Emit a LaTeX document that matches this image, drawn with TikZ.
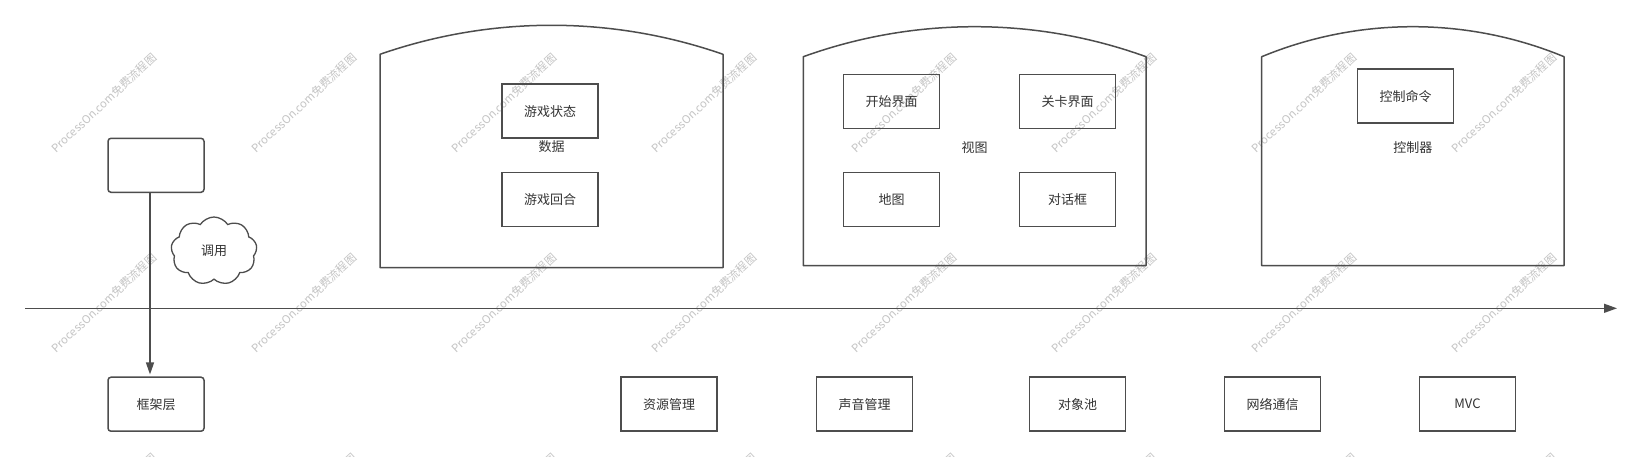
\documentclass[tikz,border=0pt]{standalone}
\usepackage{fontspec}
\setmainfont{Noto Sans CJK SC}
\usetikzlibrary{shapes.symbols,arrows.meta}
\definecolor{linec}{HTML}{4D4D4D}
\definecolor{textc}{HTML}{333333}
\definecolor{wmc}{HTML}{C4C4C4}
\tikzset{
  box/.style={draw=linec, line width=1.5pt, minimum width=96pt, minimum height=54pt, inner sep=0pt, font=\fontsize{13}{13}\selectfont, text=textc},
  rbox/.style={box, rounded corners=3pt},
  lbl/.style={font=\fontsize{13}{13}\selectfont, text=textc, inner sep=1pt},
  cont/.style={draw=linec, line width=1.5pt, line join=round},
  wm/.style={font=\fontsize{11.3}{11.3}\selectfont, text=wmc, rotate=43, inner sep=0pt},
  axisline/.style={draw=linec, line width=1.3pt}
}
\begin{document}
\begin{tikzpicture}[x=1pt,y=-1pt]
\useasboundingbox[fill=white] (0,0) rectangle (1638,456);
% watermarks
\foreach \i in {0,...,7}{
  \foreach \j in {0,1,2}{
    \node[wm] (wm-\i-\j) at (104+200*\i,103+200*\j) {ProcessOn.com免费流程图};
  }
}
% containers
\draw[cont] (380,267.7) -- (380,54.3) .. controls (491.1,15.6) and (611.9,15.6) .. (723,54.3) -- (723,267.7) -- cycle;
\node[lbl] (data) at (551.5,146.7) {数据};
\draw[cont] (803.3,265.7) -- (803.3,56.7) .. controls (914,16.7) and (1035.3,16.7) .. (1146,56.7) -- (1146,265.7) -- cycle;
\node[lbl] (view) at (974.7,147.3) {视图};
\draw[cont] (1261.7,265.7) -- (1261.7,56.7) .. controls (1358.4,16.7) and (1467.3,16.7) .. (1564,56.7) -- (1564,265.7) -- cycle;
\node[lbl] (ctrl) at (1412.8,147.3) {控制器};
% inner boxes
\node[box] (state) at (550,111.2) {游戏状态};
\node[box] (round) at (550,199.5) {游戏回合};
\node[box] (start) at (891.7,101.3) {开始界面};
\node[box] (level) at (1067.7,101.3) {关卡界面};
\node[box] (map) at (891.7,199.3) {地图};
\node[box] (dialog) at (1067.7,199.3) {对话框};
\node[box] (cmd) at (1405.7,96.2) {控制命令};
% left boxes
\node[rbox] (tl) at (156,165.3) {};
\node[rbox] (fw) at (156,404.2) {框架层};
\node[cloud, cloud puffs=9, cloud puff arc=115, draw=linec, line width=1.3pt, minimum width=86pt, minimum height=68pt, inner sep=0pt, font=\fontsize{13}{13}\selectfont, text=textc] (cl) at (214,251) {调用};
% bottom boxes
\node[box] (res) at (669,404.2) {资源管理};
\node[box] (snd) at (864.5,404.2) {声音管理};
\node[box] (pool) at (1077.5,404.2) {对象池};
\node[box] (net) at (1272.5,404.2) {网络通信};
\node[box] (mvc) at (1467.5,404.2) {MVC};
% axis
\coordinate (axs) at (25,308.3);
\coordinate (axe) at (1617,308.3);
\draw[axisline, -{Triangle[length=13pt,width=9pt]}] (axs) -- (axe);
% call arrow
\draw[axisline, -{Triangle[length=12pt,width=8pt]}, shorten >=2pt] ([xshift=-6pt]tl.south) -- ([xshift=-6pt]fw.north);
\end{tikzpicture}
\end{document}
